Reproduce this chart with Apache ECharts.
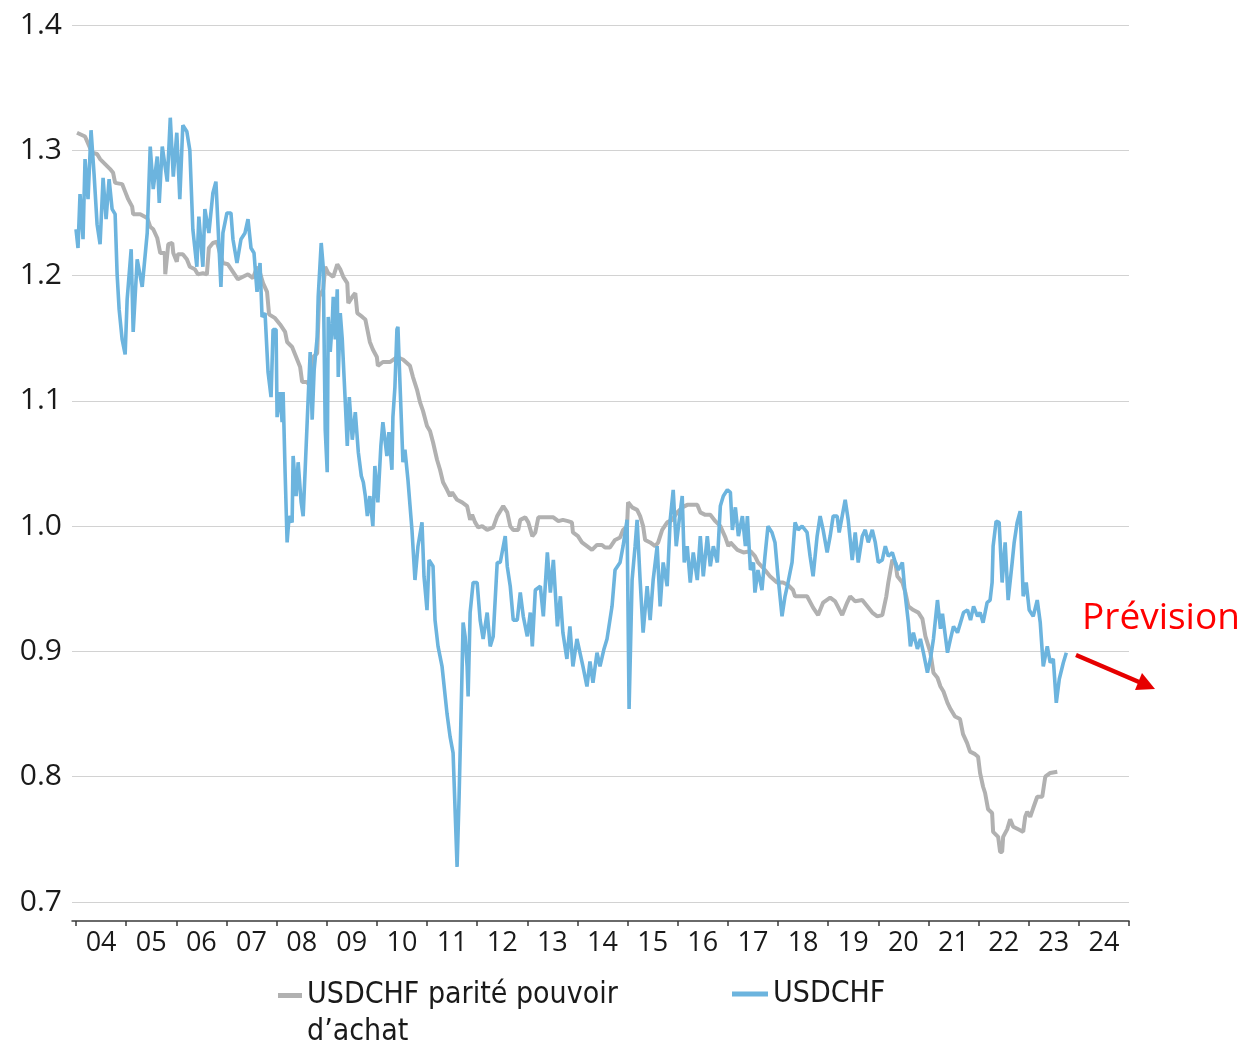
<!DOCTYPE html>
<html>
<head>
<meta charset="utf-8">
<script src="https://cdn.jsdelivr.net/npm/echarts@6/dist/echarts.min.js"></script>
<style>
  html, body { margin: 0; padding: 0; background: #fff; }
  #chart { width: 1243px; height: 1043px; }
</style>
</head>
<body>
<div id="chart"></div>
<script>
// x-axis tick labels (one per year, centred between ticks)
var yearLabels = ['04','05','06','07','08','09','10','11','12','13','14','15','16','17','18','19','20','21','22','23','24'];

// USDCHF spot (decimal year / rate)
var usdchfYears = [
  2004.00,2004.04,2004.08,2004.14,2004.18,2004.24,2004.30,2004.36,2004.42,2004.48,2004.54,2004.60,2004.66,2004.72,2004.78,2004.82,2004.86,2004.92,2004.98,
  2005.02,2005.10,2005.14,2005.22,2005.32,2005.42,2005.48,2005.54,2005.62,2005.66,2005.72,2005.82,2005.88,2005.94,
  2006.01,2006.07,2006.13,2006.21,2006.27,2006.33,2006.41,2006.45,2006.53,2006.57,2006.65,2006.73,2006.79,2006.89,2006.93,
  2007.01,2007.09,2007.13,2007.21,2007.29,2007.37,2007.43,2007.49,2007.55,2007.61,2007.67,2007.71,2007.77,2007.83,2007.89,2007.93,2007.99,
  2008.01,2008.07,2008.11,2008.13,2008.17,2008.21,2008.25,2008.31,2008.33,2008.39,2008.43,2008.49,2008.53,2008.57,2008.61,2008.67,2008.71,2008.75,2008.81,2008.83,2008.89,2008.93,2008.97,
  2009.01,2009.03,2009.07,2009.11,2009.13,2009.17,2009.21,2009.23,2009.27,2009.31,2009.37,2009.41,2009.45,2009.51,2009.57,2009.63,2009.69,2009.73,2009.77,2009.81,2009.86,2009.92,2009.96,
  2010.02,2010.08,2010.12,2010.20,2010.24,2010.30,2010.32,2010.36,2010.40,2010.42,2010.46,2010.52,2010.56,2010.62,2010.70,2010.76,2010.82,2010.90,2010.94,
  2011.00,2011.04,2011.12,2011.16,2011.22,2011.30,2011.40,2011.46,2011.52,2011.60,2011.64,2011.70,2011.72,2011.76,2011.80,2011.82,2011.86,2011.92,
  2012.00,2012.06,2012.12,2012.20,2012.26,2012.32,2012.40,2012.46,2012.56,2012.60,2012.66,2012.72,2012.80,2012.86,2012.92,
  2013.00,2013.06,2013.10,2013.16,2013.26,2013.32,2013.40,2013.46,2013.52,2013.60,2013.66,2013.71,2013.79,2013.85,2013.91,2013.99,
  2014.05,2014.11,2014.19,2014.25,2014.31,2014.39,2014.45,2014.53,2014.59,2014.69,2014.75,2014.85,2014.91,2014.99,
  2015.03,2015.09,2015.15,2015.19,2015.25,2015.31,2015.39,2015.45,2015.51,2015.59,2015.65,2015.71,2015.79,2015.85,2015.91,2015.97,
  2016.03,2016.09,2016.13,2016.19,2016.25,2016.31,2016.39,2016.45,2016.51,2016.59,2016.65,2016.71,2016.79,2016.85,2016.91,2016.99,
  2017.05,2017.09,2017.15,2017.21,2017.29,2017.35,2017.39,2017.45,2017.51,2017.54,2017.60,2017.68,2017.74,2017.80,2017.88,2017.94,
  2018.00,2018.08,2018.14,2018.20,2018.28,2018.34,2018.40,2018.48,2018.58,2018.64,2018.70,2018.78,2018.84,2018.90,2018.98,
  2019.04,2019.10,2019.18,2019.22,2019.28,2019.34,2019.40,2019.48,2019.54,2019.60,2019.68,2019.74,2019.80,2019.88,2019.94,
  2020.00,2020.08,2020.14,2020.20,2020.28,2020.34,2020.40,2020.48,2020.54,2020.60,2020.64,2020.70,2020.78,2020.84,2020.90,2020.98,
  2021.04,2021.10,2021.18,2021.24,2021.28,2021.38,2021.44,2021.50,2021.58,2021.64,2021.70,2021.78,2021.84,2021.90,2021.98,
  2022.03,2022.09,2022.17,2022.23,2022.27,2022.29,2022.35,2022.41,2022.47,2022.53,2022.59,2022.67,2022.71,2022.77,2022.83,2022.89,2022.95,
  2023.01,2023.09,2023.17,2023.23,2023.29,2023.37,2023.43,2023.49,2023.55,2023.61,2023.69,2023.75
];
var usdchfValues = [
  1.237,1.222,1.265,1.229,1.293,1.261,1.316,1.281,1.241,1.225,1.278,1.245,1.277,1.253,1.249,1.201,1.173,1.149,1.137,
  1.181,1.221,1.155,1.213,1.191,1.234,1.303,1.269,1.295,1.258,1.303,1.275,1.326,1.279,
  1.314,1.261,1.320,1.315,1.300,1.237,1.207,1.247,1.207,1.253,1.234,1.266,1.275,1.191,1.234,
  1.250,1.250,1.229,1.210,1.229,1.234,1.245,1.222,1.218,1.187,1.210,1.167,1.170,1.123,1.103,1.157,1.157,
  1.087,1.107,1.083,1.107,1.043,0.987,1.008,1.003,1.056,1.024,1.051,1.019,1.008,1.045,1.083,1.139,1.085,1.125,1.151,1.183,1.226,1.207,1.077,
  1.043,1.167,1.139,1.162,1.183,1.149,1.189,1.119,1.170,1.149,1.099,1.064,1.103,1.069,1.091,1.059,1.040,1.035,1.024,1.008,1.024,1.000,1.048,
  1.019,1.064,1.083,1.056,1.075,1.045,1.087,1.111,1.157,1.159,1.115,1.051,1.061,1.037,0.997,0.957,0.984,1.003,0.960,
  0.933,0.973,0.968,0.925,0.904,0.888,0.850,0.832,0.819,0.728,0.784,0.886,0.923,0.912,0.888,0.864,0.931,0.955,
  0.955,0.925,0.910,0.931,0.904,0.912,0.971,0.971,0.992,0.968,0.952,0.925,0.925,0.947,0.928,
  0.912,0.931,0.904,0.949,0.952,0.928,0.979,0.947,0.973,0.920,0.944,0.915,0.894,0.920,0.888,0.910,
  0.899,0.888,0.872,0.892,0.875,0.899,0.888,0.902,0.910,0.936,0.965,0.971,0.984,1.005,
  0.854,0.957,0.984,1.005,0.957,0.915,0.952,0.925,0.957,0.984,0.936,0.971,0.952,1.005,1.029,0.984,
  1.005,1.024,0.971,0.984,0.955,0.979,0.957,0.992,0.960,0.992,0.968,0.984,0.971,1.016,1.024,1.029,
  1.027,0.997,1.015,0.992,1.008,0.984,1.008,0.965,0.971,0.947,0.965,0.949,0.976,1.000,0.995,0.987,
  0.960,0.928,0.944,0.955,0.971,1.003,0.997,1.000,0.995,0.976,0.960,0.992,1.008,0.997,0.979,
  0.992,1.008,1.008,0.995,1.008,1.021,1.005,0.973,0.995,0.971,0.992,0.997,0.987,0.997,0.987,
  0.971,0.973,0.984,0.976,0.979,0.971,0.965,0.971,0.944,0.923,0.904,0.915,0.902,0.910,0.899,0.883,
  0.894,0.910,0.941,0.918,0.930,0.899,0.910,0.920,0.915,0.923,0.931,0.933,0.925,0.936,0.928,
  0.931,0.923,0.939,0.941,0.955,0.984,1.004,1.003,0.955,0.987,0.941,0.971,0.987,1.003,1.012,0.944,0.955,
  0.933,0.928,0.941,0.923,0.888,0.904,0.891,0.894,0.859,0.878,0.891,0.899
];

// USDCHF purchasing power parity (decimal year / rate)
var pppYears = [
  2004.02,2004.18,2004.32,2004.42,2004.48,2004.58,2004.68,2004.74,2004.78,2004.92,2004.98,
  2005.04,2005.12,2005.14,2005.28,2005.42,2005.48,2005.54,2005.62,2005.68,2005.77,2005.78,2005.80,2005.84,2005.92,2005.94,
  2006.01,2006.03,2006.13,2006.21,2006.27,2006.37,2006.43,2006.53,2006.61,2006.65,2006.73,2006.81,2006.87,2006.93,
  2007.03,2007.13,2007.23,2007.33,2007.43,2007.53,2007.61,2007.67,2007.73,2007.81,2007.85,2007.97,
  2008.07,2008.17,2008.21,2008.31,2008.37,2008.43,2008.47,2008.51,2008.61,2008.71,2008.73,2008.81,2008.85,2008.93,2008.97,
  2009.03,2009.13,2009.21,2009.27,2009.33,2009.41,2009.43,2009.51,2009.57,2009.61,2009.71,2009.77,2009.81,2009.86,2009.92,
  2010.00,2010.02,2010.12,2010.26,2010.40,2010.52,2010.66,2010.72,2010.80,2010.86,2010.92,
  2011.00,2011.06,2011.12,2011.20,2011.26,2011.32,2011.40,2011.46,2011.50,2011.60,2011.70,2011.80,2011.86,2011.90,2011.96,
  2012.02,2012.10,2012.20,2012.32,2012.40,2012.46,2012.52,2012.60,2012.66,2012.72,2012.82,2012.86,2012.96,
  2013.02,2013.10,2013.16,2013.22,2013.40,2013.52,2013.62,2013.71,2013.81,2013.89,2013.91,
  2014.01,2014.09,2014.19,2014.29,2014.39,2014.49,2014.55,2014.65,2014.75,2014.85,2014.91,2014.99,
  2015.01,2015.09,2015.19,2015.25,2015.31,2015.35,2015.45,2015.55,2015.61,2015.69,2015.79,2015.89,2015.99,
  2016.09,2016.19,2016.39,2016.45,2016.55,2016.65,2016.75,2016.85,2016.95,
  2017.01,2017.05,2017.19,2017.31,2017.45,2017.54,2017.60,2017.74,2017.84,2017.98,
  2018.10,2018.20,2018.30,2018.34,2018.44,2018.58,2018.70,2018.80,2018.90,
  2019.04,2019.14,2019.28,2019.38,2019.44,2019.54,2019.68,2019.78,2019.88,2019.98,
  2020.08,2020.16,2020.20,2020.28,2020.34,2020.38,2020.48,2020.54,2020.60,2020.70,2020.80,2020.88,2020.94,
  2021.04,2021.10,2021.18,2021.24,2021.30,2021.38,2021.44,2021.53,2021.63,2021.69,2021.77,2021.83,2021.93,2021.99,
  2022.03,2022.09,2022.13,2022.19,2022.27,2022.29,2022.39,2022.43,2022.47,2022.49,2022.57,2022.63,2022.69,2022.79,2022.89,2022.93,2022.97,
  2023.03,2023.09,2023.17,2023.27,2023.33,2023.43,2023.57
];
var pppValues = [
  1.314,1.311,1.298,1.297,1.293,1.289,1.285,1.282,1.274,1.273,1.267,
  1.261,1.255,1.249,1.249,1.246,1.239,1.237,1.230,1.218,1.218,1.201,1.201,1.225,1.226,1.218,
  1.211,1.217,1.217,1.213,1.207,1.205,1.201,1.202,1.201,1.222,1.226,1.227,1.218,1.210,
  1.209,1.203,1.197,1.199,1.201,1.198,1.207,1.202,1.194,1.187,1.169,1.166,
  1.161,1.155,1.147,1.143,1.137,1.131,1.127,1.115,1.115,1.109,1.135,1.138,1.183,1.189,1.207,
  1.202,1.199,1.209,1.205,1.199,1.194,1.178,1.183,1.186,1.170,1.167,1.165,1.157,1.147,1.141,
  1.135,1.128,1.131,1.131,1.135,1.133,1.128,1.119,1.109,1.099,1.092,
  1.080,1.076,1.067,1.053,1.045,1.035,1.029,1.024,1.027,1.021,1.019,1.016,1.005,1.009,1.003,
  0.999,1.000,0.997,0.999,1.008,1.012,1.016,1.011,1.000,0.997,0.997,1.005,1.007,
  1.003,0.992,0.995,1.007,1.007,1.007,1.004,1.005,1.004,1.003,0.995,
  0.992,0.987,0.984,0.981,0.985,0.985,0.983,0.983,0.989,0.991,0.997,1.000,
  1.019,1.015,1.013,1.008,1.000,0.989,0.987,0.984,0.987,0.997,1.003,1.005,1.011,
  1.015,1.017,1.017,1.011,1.009,1.009,1.004,1.000,0.991,
  0.984,0.987,0.981,0.979,0.980,0.976,0.971,0.965,0.960,0.955,
  0.955,0.953,0.949,0.944,0.944,0.944,0.935,0.929,0.939,
  0.943,0.940,0.929,0.939,0.944,0.940,0.941,0.936,0.931,0.928,
  0.929,0.944,0.955,0.973,0.971,0.960,0.955,0.947,0.936,0.933,0.931,0.926,0.912,
  0.899,0.883,0.879,0.872,0.868,0.859,0.854,0.848,0.846,0.834,0.827,0.820,0.818,0.816,
  0.803,0.792,0.787,0.774,0.771,0.756,0.752,0.740,0.740,0.752,0.758,0.766,0.760,0.758,0.756,0.768,0.772,
  0.768,0.775,0.784,0.784,0.800,0.803,0.804
];

function pairs(xs, ys) {
  var out = [];
  for (var i = 0; i < xs.length; i++) out.push([xs[i], ys[i]]);
  return out;
}

var tickYears = [];
for (var i = 0; i <= yearLabels.length; i++) tickYears.push(2004 + i);
var labelYears = yearLabels.map(function (l, i) { return 2004 + i + 0.5; });

var myChart = echarts.init(document.getElementById('chart'));
var gray = '#b1b1b1';
var blue = '#6cb4de';
var pppName = 'USDCHF parité pouvoir d’achat';
var legendFont = 'Liberation Sans Narrow, DejaVu Sans Condensed, sans-serif';

var option = {
  animation: false,
  grid: { left: 72, right: 114, top: 25, bottom: 141 },
  xAxis: {
    type: 'value',
    min: 2003.92,
    max: 2025,
    offset: 19,
    axisLine: { show: true, lineStyle: { color: '#3a3a3a', width: 1.5 } },
    axisTick: { show: true, customValues: tickYears, length: 5, lineStyle: { color: '#3a3a3a', width: 1.5 } },
    axisLabel: {
      customValues: labelYears,
      formatter: function (v) { return yearLabels[Math.floor(v) - 2004]; },
      fontFamily: 'Open Sans',
      fontSize: 27,
      color: '#1a1a1a',
      margin: 9
    },
    splitLine: { show: false }
  },
  yAxis: {
    type: 'value',
    min: 0.7,
    max: 1.4,
    interval: 0.1,
    axisLine: { show: false },
    axisTick: { show: false },
    axisLabel: {
      formatter: function (v) { return v.toFixed(1); },
      fontFamily: 'Open Sans',
      fontSize: 30,
      color: '#1a1a1a',
      margin: 10
    },
    splitLine: { lineStyle: { color: '#d2d2d2', width: 1.2 } }
  },
  legend: [{
    data: [pppName],
    left: 278,
    top: 940,
    padding: 0,
    icon: 'rect',
    itemWidth: 24,
    itemHeight: 5,
    // empty first line keeps the icon level with the first text line
    formatter: function () { return '\nUSDCHF parité pouvoir\nd’achat'; },
    textStyle: { fontFamily: legendFont, fontSize: 30, color: '#1a1a1a', lineHeight: 37 }
  }, {
    data: ['USDCHF'],
    left: 732,
    top: 976,
    padding: 0,
    icon: 'rect',
    itemWidth: 36,
    itemHeight: 5,
    textStyle: { fontFamily: legendFont, fontSize: 30, color: '#1a1a1a', lineHeight: 36 }
  }],
  series: [{
    name: pppName,
    type: 'line',
    data: pairs(pppYears, pppValues),
    showSymbol: false,
    lineStyle: { color: gray, width: 4 },
    itemStyle: { color: gray },
    z: 2
  }, {
    name: 'USDCHF',
    type: 'line',
    data: pairs(usdchfYears, usdchfValues),
    showSymbol: false,
    lineStyle: { color: blue, width: 3.6 },
    itemStyle: { color: blue },
    z: 3
  }],
  graphic: [{
    type: 'text',
    left: 1082,
    top: 600,
    style: { text: 'Prévision', fill: '#ff0000', font: '37px "Open Sans"' }
  }, {
    type: 'line',
    shape: { x1: 1076, y1: 655, x2: 1139, y2: 682 },
    style: { stroke: '#e60000', lineWidth: 4.5 }
  }, {
    type: 'polygon',
    shape: { points: [[1155, 689], [1135, 690], [1142, 673]] },
    style: { fill: '#e60000' }
  }]
};

myChart.setOption(option);
</script>
</body>
</html>
